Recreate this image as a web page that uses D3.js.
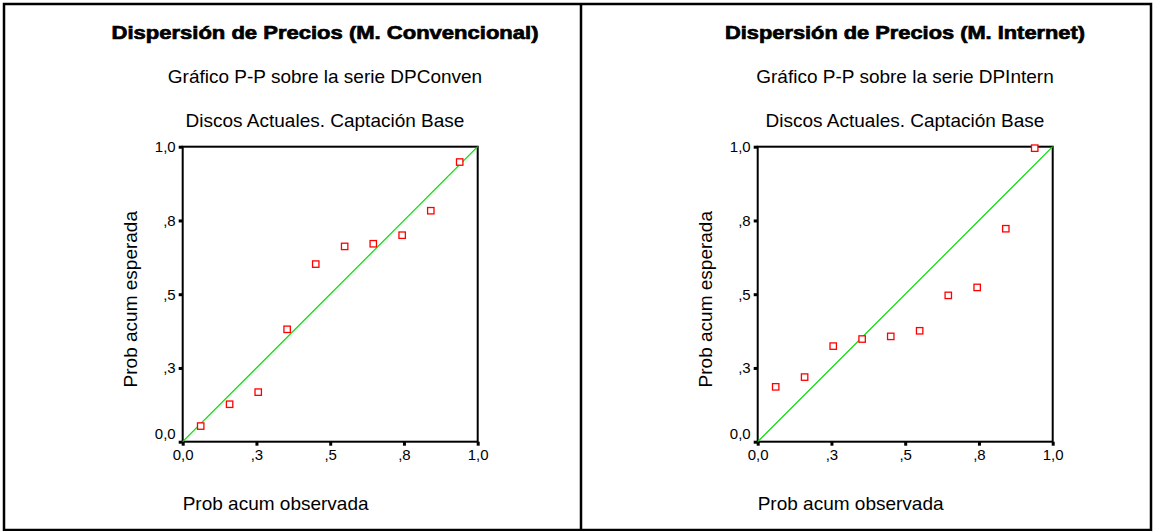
<!DOCTYPE html>
<html><head><meta charset="utf-8">
<script src="https://cdn.jsdelivr.net/npm/d3@7"></script>
<style>body{margin:0;background:#fff}svg{display:block}</style>
</head><body>
<svg id="c" width="1153" height="531"></svg>
<script>
// ---- data ----
const titles = ["Dispersión de Precios (M. Convencional)", "Dispersión de Precios (M. Internet)"];
const subtitles = ["Gráfico P-P sobre la serie DPConven", "Gráfico P-P sobre la serie DPIntern"];
const subtitle2 = "Discos Actuales. Captación Base";
const xLabel = "Prob acum observada";
const yLabel = "Prob acum esperada";
const tickValues = [0, 0.25, 0.5, 0.75, 1];
const tickLabels = ["0,0", ",3", ",5", ",8", "1,0"];
const observed = [0.061, 0.159, 0.256, 0.354, 0.451, 0.549, 0.646, 0.744, 0.841, 0.939];
const expectedConven = [0.053, 0.127, 0.168, 0.381, 0.602, 0.662, 0.671, 0.700, 0.783, 0.948];
const expectedIntern = [0.186, 0.219, 0.324, 0.348, 0.357, 0.376, 0.496, 0.523, 0.722, 0.995];

const svg = d3.select("#c");
const FONT = "'Liberation Sans', Arial, sans-serif";

// frame
svg.append("rect").attr("x", 4).attr("y", 4).attr("width", 1147).attr("height", 526)
  .attr("fill", "none").attr("stroke", "#000").attr("stroke-width", 2.5);
svg.append("line").attr("x1", 581).attr("x2", 581).attr("y1", 4).attr("y2", 530)
  .attr("stroke", "#000").attr("stroke-width", 2.5);

const panels = [
  {left: 182.7, top: 146.7, size: 295, textCx: 325, title: titles[0], sub: subtitles[0], y: expectedConven, titleW: 427},
  {left: 757.7, top: 146.7, size: 295, textCx: 905, title: titles[1], sub: subtitles[1], y: expectedIntern, titleW: 360}
];

panels.forEach(p => {
  const g = svg.append("g");
  const x = d3.scaleLinear().domain([0, 1]).range([p.left, p.left + p.size]);
  const y = d3.scaleLinear().domain([0, 1]).range([p.top + p.size, p.top]);

  g.append("text").attr("x", p.textCx).attr("y", 38.5).attr("text-anchor", "middle")
    .attr("font-family", FONT).attr("font-weight", "bold").attr("font-size", 18.6)
    .attr("stroke", "#000").attr("stroke-width", 0.7)
    .attr("textLength", p.titleW).attr("lengthAdjust", "spacingAndGlyphs")
    .text(p.title);
  g.append("text").attr("x", p.textCx).attr("y", 82.5).attr("text-anchor", "middle")
    .attr("font-family", FONT).attr("font-size", 19).text(p.sub);
  g.append("text").attr("x", p.textCx).attr("y", 127).attr("text-anchor", "middle")
    .attr("font-family", FONT).attr("font-size", 19).text(subtitle2);

  // frame of plot
  g.append("rect").attr("x", x(0)).attr("y", y(1)).attr("width", x(1) - x(0)).attr("height", y(0) - y(1))
    .attr("fill", "none").attr("stroke", "#000").attr("stroke-width", 2);

  // axes
  const xa = g.append("g").attr("transform", `translate(0,${y(0)})`)
    .call(d3.axisBottom(x).tickValues(tickValues).tickFormat((d, i) => tickLabels[i]).tickSize(4).tickSizeOuter(0));
  const ya = g.append("g").attr("transform", `translate(${x(0)},0)`)
    .call(d3.axisLeft(y).tickValues(tickValues).tickFormat((d, i) => tickLabels[i]).tickSize(4).tickSizeOuter(0));
  [xa, ya].forEach(a => {
    a.select(".domain").remove();
    a.selectAll(".tick line").attr("stroke", "#000").attr("stroke-width", 3);
    a.selectAll(".tick text").attr("font-family", FONT).attr("font-size", 15).attr("fill", "#000");
  });
  xa.selectAll(".tick text").attr("y", 8).attr("dy", "0.71em");
  ya.selectAll(".tick text").attr("x", -7);
  ya.selectAll(".tick text").filter(d => d === 0).attr("dy", "-0.2em");

  // axis titles
  g.append("text").attr("transform", `translate(${p.left - 46},${y(0.5) + 5}) rotate(-90)`)
    .attr("text-anchor", "middle").attr("font-family", FONT).attr("font-size", 19).text(yLabel);
  g.append("text").attr("x", p.left).attr("y", 509.5)
    .attr("font-family", FONT).attr("font-size", 19).text(xLabel);

  // diagonal reference line
  g.append("line").attr("x1", x(0)).attr("y1", y(0)).attr("x2", x(1)).attr("y2", y(1))
    .attr("stroke", "#00dd00").attr("stroke-width", 1.2);

  // points
  const pts = observed.map((o, i) => [o, p.y[i]]);
  g.selectAll("rect.pt").data(pts).enter().append("rect").attr("class", "pt")
    .attr("x", d => x(d[0]) - 3.2).attr("y", d => y(d[1]) - 3.2).attr("width", 6.4).attr("height", 6.4)
    .attr("fill", "#fff").attr("stroke", "#ff0000").attr("stroke-width", 1.3);
});
</script>
</body></html>
